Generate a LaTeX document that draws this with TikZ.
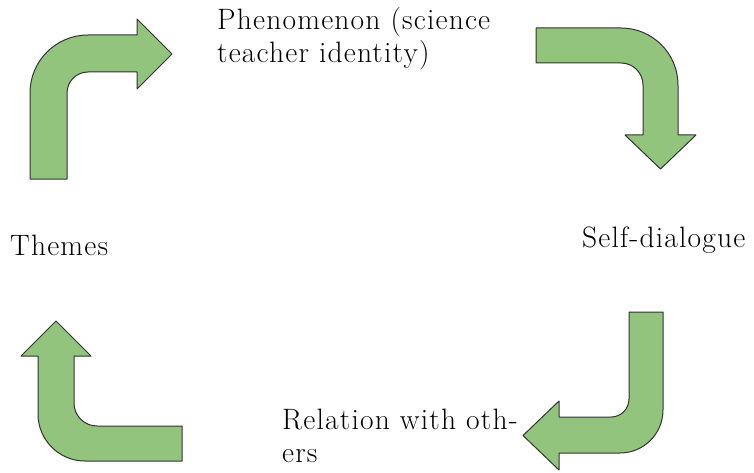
\documentclass[tikz,border=0pt]{standalone}
\usepackage{fontspec}
\setmainfont{Latin Modern Roman}[LetterSpace=4]
\usepackage{tikz}
\usepackage{xcolor}
\definecolor{arrowgreen}{HTML}{93C47D}
\definecolor{arrowline}{HTML}{333333}
\tikzset{
  bentarrow/.style={fill=arrowgreen, draw=arrowline, line width=1pt, line join=round},
  stage/.style={anchor=base west, inner sep=0pt, align=left, font=\fontsize{29.5}{33}\selectfont}
}
\begin{document}
\begin{tikzpicture}[x=1pt,y=1pt]
				\useasboundingbox (0,0) rectangle (754,472);
				% arrows
				\filldraw[bentarrow] (30,293) -- (30,379) arc[start angle=180,end angle=90,radius=58pt] -- (137,437) -- (137,453) -- (172,418) -- (137,383) -- (137,400) -- (88,400) arc[start angle=90,end angle=180,radius=21pt] -- (67,293) -- cycle;
				\filldraw[bentarrow] (536,444) -- (621,444) arc[start angle=90,end angle=0,radius=57pt] -- (678,337) -- (696,337) -- (660.5,303) -- (625,337) -- (643,337) -- (643,387) arc[start angle=0,end angle=90,radius=22pt] -- (536,409) -- cycle;
				\filldraw[bentarrow] (629,160) -- (663,160) -- (663,62) arc[start angle=0,end angle=-90,radius=43pt] -- (559,19) -- (559,2) -- (523,36.5) -- (559,71) -- (559,55) -- (611,55) arc[start angle=-90,end angle=0,radius=18pt] -- cycle;
				\filldraw[bentarrow] (182,11) -- (85,11) arc[start angle=-90,end angle=-180,radius=47pt] -- (38,116) -- (21,116) -- (56,151) -- (91,116) -- (74,116) -- (74,69) arc[start angle=180,end angle=270,radius=23pt] -- (182,46) -- cycle;
				% nodes (base is the last line)
				\node[stage] (phenomenon) at (217,409) {Phenomenon (science\\teacher identity)};
				\node[stage] (themes) at (10,216.5) {Themes};
				\node[stage] (selfdialogue) at (582,225) {Self-dialogue};
				\node[stage] (relation) at (282,10) {Relation with oth-\\ers};
			\end{tikzpicture}
\end{document}
